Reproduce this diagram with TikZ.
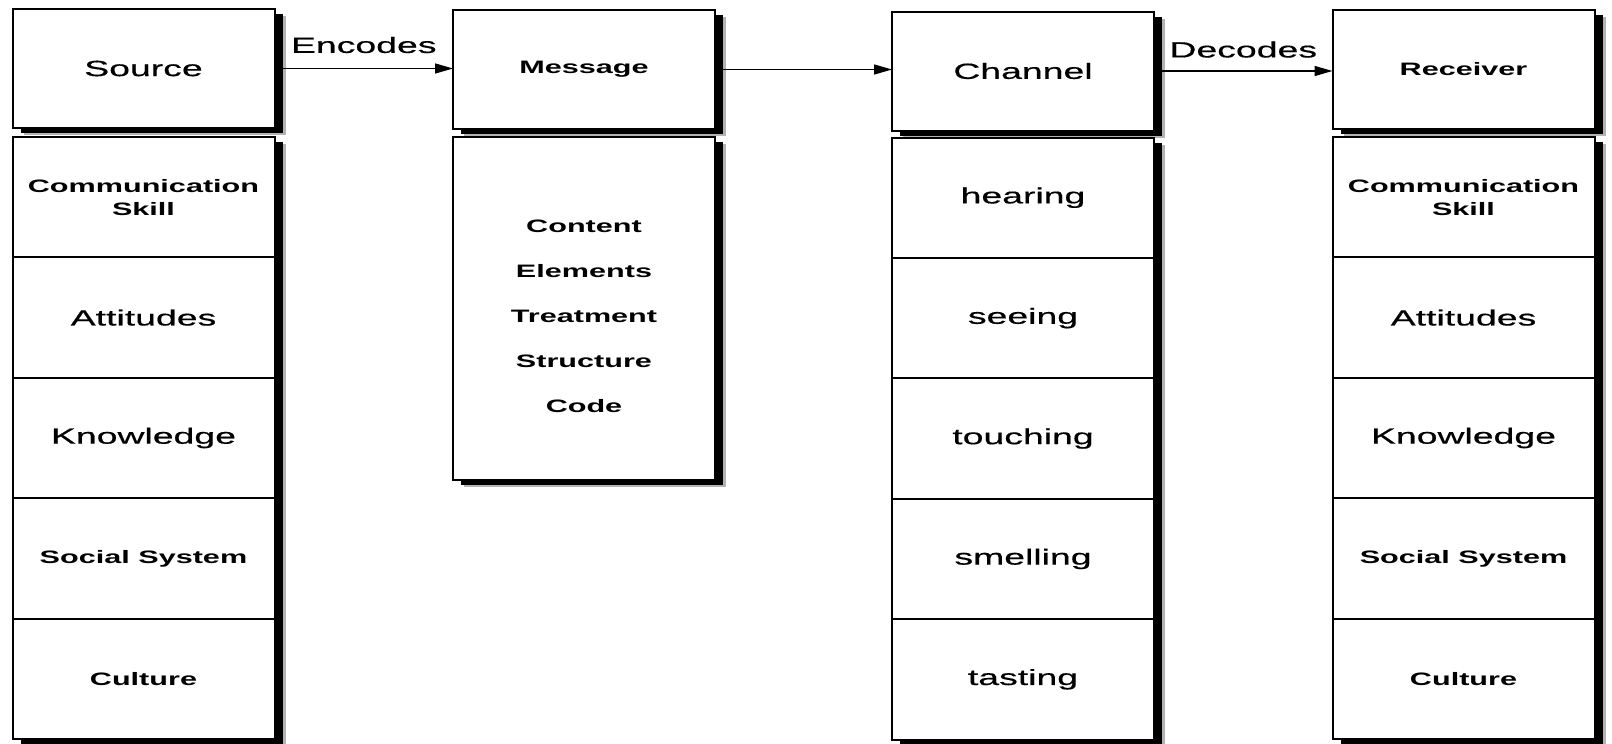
\documentclass[tikz,border=0pt]{standalone}
\usepackage{fontspec}
\setmainfont{Liberation Sans}[FakeStretch=1.7, UprightFeatures={FakeBold=0.5}]
\usetikzlibrary{arrows.meta, positioning}

\begin{document}
\begin{tikzpicture}[
    x=0.5pt, y=-0.5pt,
    box/.style={draw=black, line width=1pt, fill=white, inner sep=0pt, outer sep=0pt,
      minimum width=131pt, minimum height=59.5pt, align=center,
      preaction={fill=black!30, transform canvas={xshift=5.5pt, yshift=-3.5pt}},
      preaction={fill=black, transform canvas={xshift=4pt, yshift=-2.5pt}}},
    cell/.style={box, minimum height=60.2pt},
    plain/.style={font=\fontsize{11}{13}\selectfont},
    heavy/.style={font=\fontsize{9}{11.5}\selectfont\bfseries},
    arrow/.style={-{Triangle[length=9pt, width=5pt]}, line width=0.7pt}
  ]
  \useasboundingbox (0,0) rectangle (1612,744);

  % Headers
  \node[box, plain] (source) at (143.5, 68.5) {Source};
  \node[box, heavy] (message) at (584, 69.5) {Message};
  \node[box, plain] (channel) at (1023, 71) {Channel};
  \node[box, heavy] (receiver) at (1463.5, 69.5) {Receiver};

  % Source column
  \node[cell, heavy, below=4.5pt of source] (srcskill) {Communication\\Skill};
  \node[cell, plain, below=0pt of srcskill] (srcatt) {Attitudes};
  \node[cell, plain, below=0pt of srcatt] (srcknow) {Knowledge};
  \node[cell, heavy, below=0pt of srcknow] (srcsoc) {Social System};
  \node[cell, heavy, below=0pt of srcsoc] (srccult) {Culture};

  % Message column
  \node[box, minimum height=171.5pt, below=4pt of message] (content) {};
  \node[align=center, yshift=-4pt, font=\fontsize{9}{22.5}\selectfont\bfseries]
    (contenttxt) at (content.center)
    {Content\\Elements\\Treatment\\Structure\\Code};

  % Channel column
  \node[cell, plain, below=3.5pt of channel] (hear) {hearing};
  \node[cell, plain, below=0pt of hear] (see) {seeing};
  \node[cell, plain, below=0pt of see] (touch) {touching};
  \node[cell, plain, below=0pt of touch] (smell) {smelling};
  \node[cell, plain, below=0pt of smell] (taste) {tasting};

  % Receiver column
  \node[cell, heavy, below=4pt of receiver] (rcvskill) {Communication\\Skill};
  \node[cell, plain, below=0pt of rcvskill] (rcvatt) {Attitudes};
  \node[cell, plain, below=0pt of rcvatt] (rcvknow) {Knowledge};
  \node[cell, heavy, below=0pt of rcvknow] (rcvsoc) {Social System};
  \node[cell, heavy, below=0pt of rcvsoc] (rcvcult) {Culture};

  % Arrows
  \draw[arrow] (source.east) -- (source.east -| message.west)
    node[midway, above=4pt, plain] {Encodes};
  \draw[arrow] (message.east) -- (message.east -| channel.west);
  \draw[arrow] (channel.east) -- (channel.east -| receiver.west)
    node[midway, above=3pt, plain] {Decodes};
\end{tikzpicture}
\end{document}
